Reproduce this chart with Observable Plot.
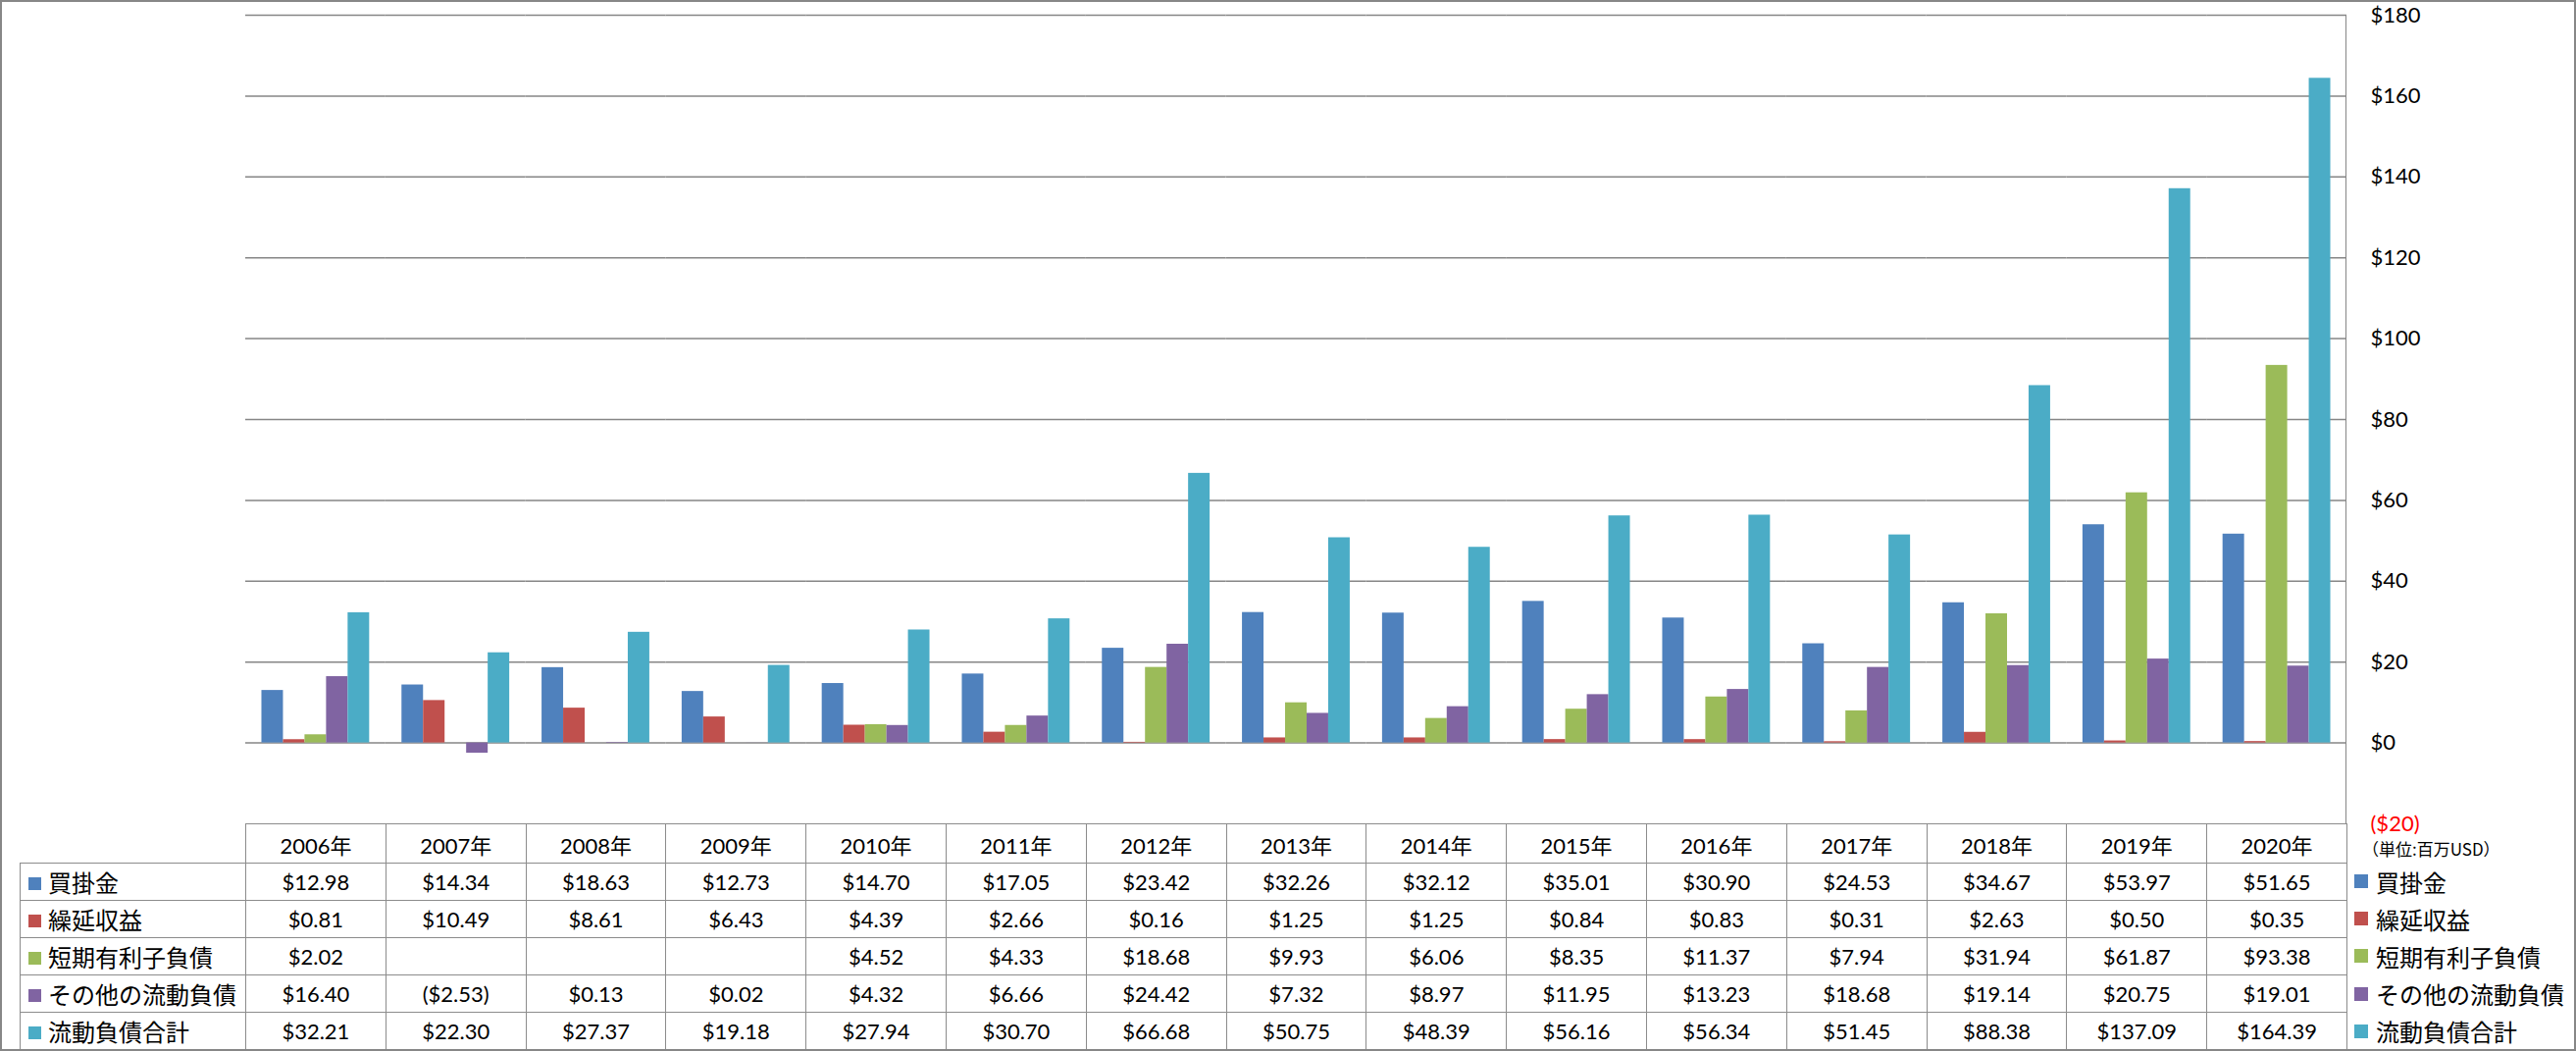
<!DOCTYPE html>
<html>
<head>
<meta charset="utf-8">
<script src="https://cdn.jsdelivr.net/npm/d3@7"></script>
<script src="https://cdn.jsdelivr.net/npm/@observablehq/plot@0.6"></script>
<style>
html,body{margin:0;padding:0;background:#fff;}
#wrap{position:relative;width:2626px;height:1071px;overflow:hidden;font-family:Lato,"Noto Sans CJK JP",sans-serif;background:#fff;}
#chart{position:absolute;left:0;top:0;}
#border{position:absolute;left:0;top:0;width:2626px;height:1071px;box-sizing:border-box;border:2px solid #878787;pointer-events:none;}
#vline{position:absolute;left:2391px;top:15px;width:1px;height:824px;background:#868686;}
#tbl{position:absolute;left:20px;top:839px;border-collapse:collapse;table-layout:fixed;width:2372px;}
#tbl td{border:1px solid #8c8c8c;text-align:center;font-size:22px;color:#000;padding:0;white-space:nowrap;overflow:hidden;font-family:Lato,"Noto Sans CJK JP",sans-serif;}
#tbl tr.head td{height:39px;}
#tbl tr.row td{height:37px;}
#tbl td.empty{border-left:none;border-top:none;}
#tbl td.lab{text-align:left;padding-left:8px;font-family:"Noto Sans CJK JP",sans-serif;font-size:24px;}
.sq{display:inline-block;width:13px;height:13px;margin-right:7px;vertical-align:middle;position:relative;top:-2px;}
#legend{position:absolute;left:2400px;top:879px;}
#legend .item{height:38.2px;display:flex;align-items:center;font-family:"Noto Sans CJK JP",sans-serif;font-size:24px;}
#legend .item .sq{width:14px;height:14px;margin-right:8px;top:0;}
#unit{position:absolute;left:2408px;top:854px;font-size:17px;font-family:"Noto Sans CJK JP",sans-serif;line-height:22px;color:#000;}
</style>
</head>
<body>
<div id="wrap">
  <div id="chart"></div>
  <div id="vline"></div>
  <table id="tbl"></table>
  <div id="unit">（単位:百万USD）</div>
  <div id="legend"></div>
  <div id="border"></div>
</div>
<script>
const years = ["2006年","2007年","2008年","2009年","2010年","2011年","2012年","2013年","2014年","2015年","2016年","2017年","2018年","2019年","2020年"];
const seriesNames = ["買掛金","繰延収益","短期有利子負債","その他の流動負債","流動負債合計"];
const seriesColors = ["#4F81BD","#C0504D","#9BBB59","#8064A2","#4BACC6"];

const accountsPayable = [12.98,14.34,18.63,12.73,14.70,17.05,23.42,32.26,32.12,35.01,30.90,24.53,34.67,53.97,51.65];
const deferredRevenue = [0.81,10.49,8.61,6.43,4.39,2.66,0.16,1.25,1.25,0.84,0.83,0.31,2.63,0.50,0.35];
const shortTermDebt   = [2.02,null,null,null,4.52,4.33,18.68,9.93,6.06,8.35,11.37,7.94,31.94,61.87,93.38];
const otherCurrent    = [16.40,-2.53,0.13,0.02,4.32,6.66,24.42,7.32,8.97,11.95,13.23,18.68,19.14,20.75,19.01];
const totalCurrent    = [32.21,22.30,27.37,19.18,27.94,30.70,66.68,50.75,48.39,56.16,56.34,51.45,88.38,137.09,164.39];

const yTicks = [-20,0,20,40,60,80,100,120,140,160,180];

const seriesValues = [accountsPayable, deferredRevenue, shortTermDebt, otherCurrent, totalCurrent];

const data = [];
years.forEach((yr, i) => {
  seriesNames.forEach((s, j) => {
    const v = seriesValues[j][i];
    if (v != null) data.push({year: yr, series: s, value: v});
  });
});

const fmt = v => v == null ? "" : (v < 0 ? "($" + Math.abs(v).toFixed(2) + ")" : "$" + v.toFixed(2));
const tickFmt = v => v < 0 ? "($" + Math.abs(v) + ")" : "$" + v;

const chart = Plot.plot({
  width: 2626,
  height: 870,
  marginLeft: 250,
  marginRight: 234,
  marginTop: 15,
  marginBottom: 31,
  style: {fontFamily: "Lato, 'Noto Sans CJK JP', sans-serif", fontSize: "22px", background: "transparent", overflow: "visible"},
  fx: {domain: years, padding: 0, round: false, axis: null},
  x: {domain: seriesNames, paddingInner: 0, paddingOuter: 0.75, round: false, axis: null},
  y: {domain: [-20, 180], label: null},
  color: {domain: seriesNames, range: seriesColors},
  marks: [
    Plot.gridY(yTicks.filter(d => d >= 0), {stroke: "#868686", strokeOpacity: 1, strokeWidth: 1.5}),
    Plot.barY(data, {fx: "year", x: "series", y: "value", fill: "series"}),
    Plot.axisY(yTicks.filter(d => d >= 0), {anchor: "right", label: null, tickSize: 0, tickPadding: 24, tickFormat: tickFmt, fontSize: 22, fill: "#000"}),
    Plot.axisY(yTicks.filter(d => d < 0), {anchor: "right", label: null, tickSize: 0, tickPadding: 24, tickFormat: tickFmt, fontSize: 22, fill: "#ff0000"})
  ]
});
document.getElementById("chart").appendChild(chart);

// table
const tbl = document.getElementById("tbl");
const colg = document.createElement("colgroup");
const c0 = document.createElement("col"); c0.style.width = "230px"; colg.appendChild(c0);
years.forEach(() => { const c = document.createElement("col"); c.style.width = (2142/15) + "px"; colg.appendChild(c); });
tbl.appendChild(colg);
const head = document.createElement("tr"); head.className = "head";
const e = document.createElement("td"); e.className = "empty"; head.appendChild(e);
years.forEach(y => { const td = document.createElement("td"); td.textContent = y; head.appendChild(td); });
tbl.appendChild(head);
seriesNames.forEach((s, j) => {
  const tr = document.createElement("tr"); tr.className = "row";
  const lab = document.createElement("td"); lab.className = "lab";
  const sq = document.createElement("span"); sq.className = "sq"; sq.style.background = seriesColors[j];
  lab.appendChild(sq); lab.appendChild(document.createTextNode(s));
  tr.appendChild(lab);
  seriesValues[j].forEach(v => { const td = document.createElement("td"); td.textContent = fmt(v); tr.appendChild(td); });
  tbl.appendChild(tr);
});

// right legend
const lg = document.getElementById("legend");
seriesNames.forEach((s, j) => {
  const it = document.createElement("div"); it.className = "item";
  const sq = document.createElement("span"); sq.className = "sq"; sq.style.background = seriesColors[j];
  it.appendChild(sq); it.appendChild(document.createTextNode(s));
  lg.appendChild(it);
});
</script>
</body>
</html>
